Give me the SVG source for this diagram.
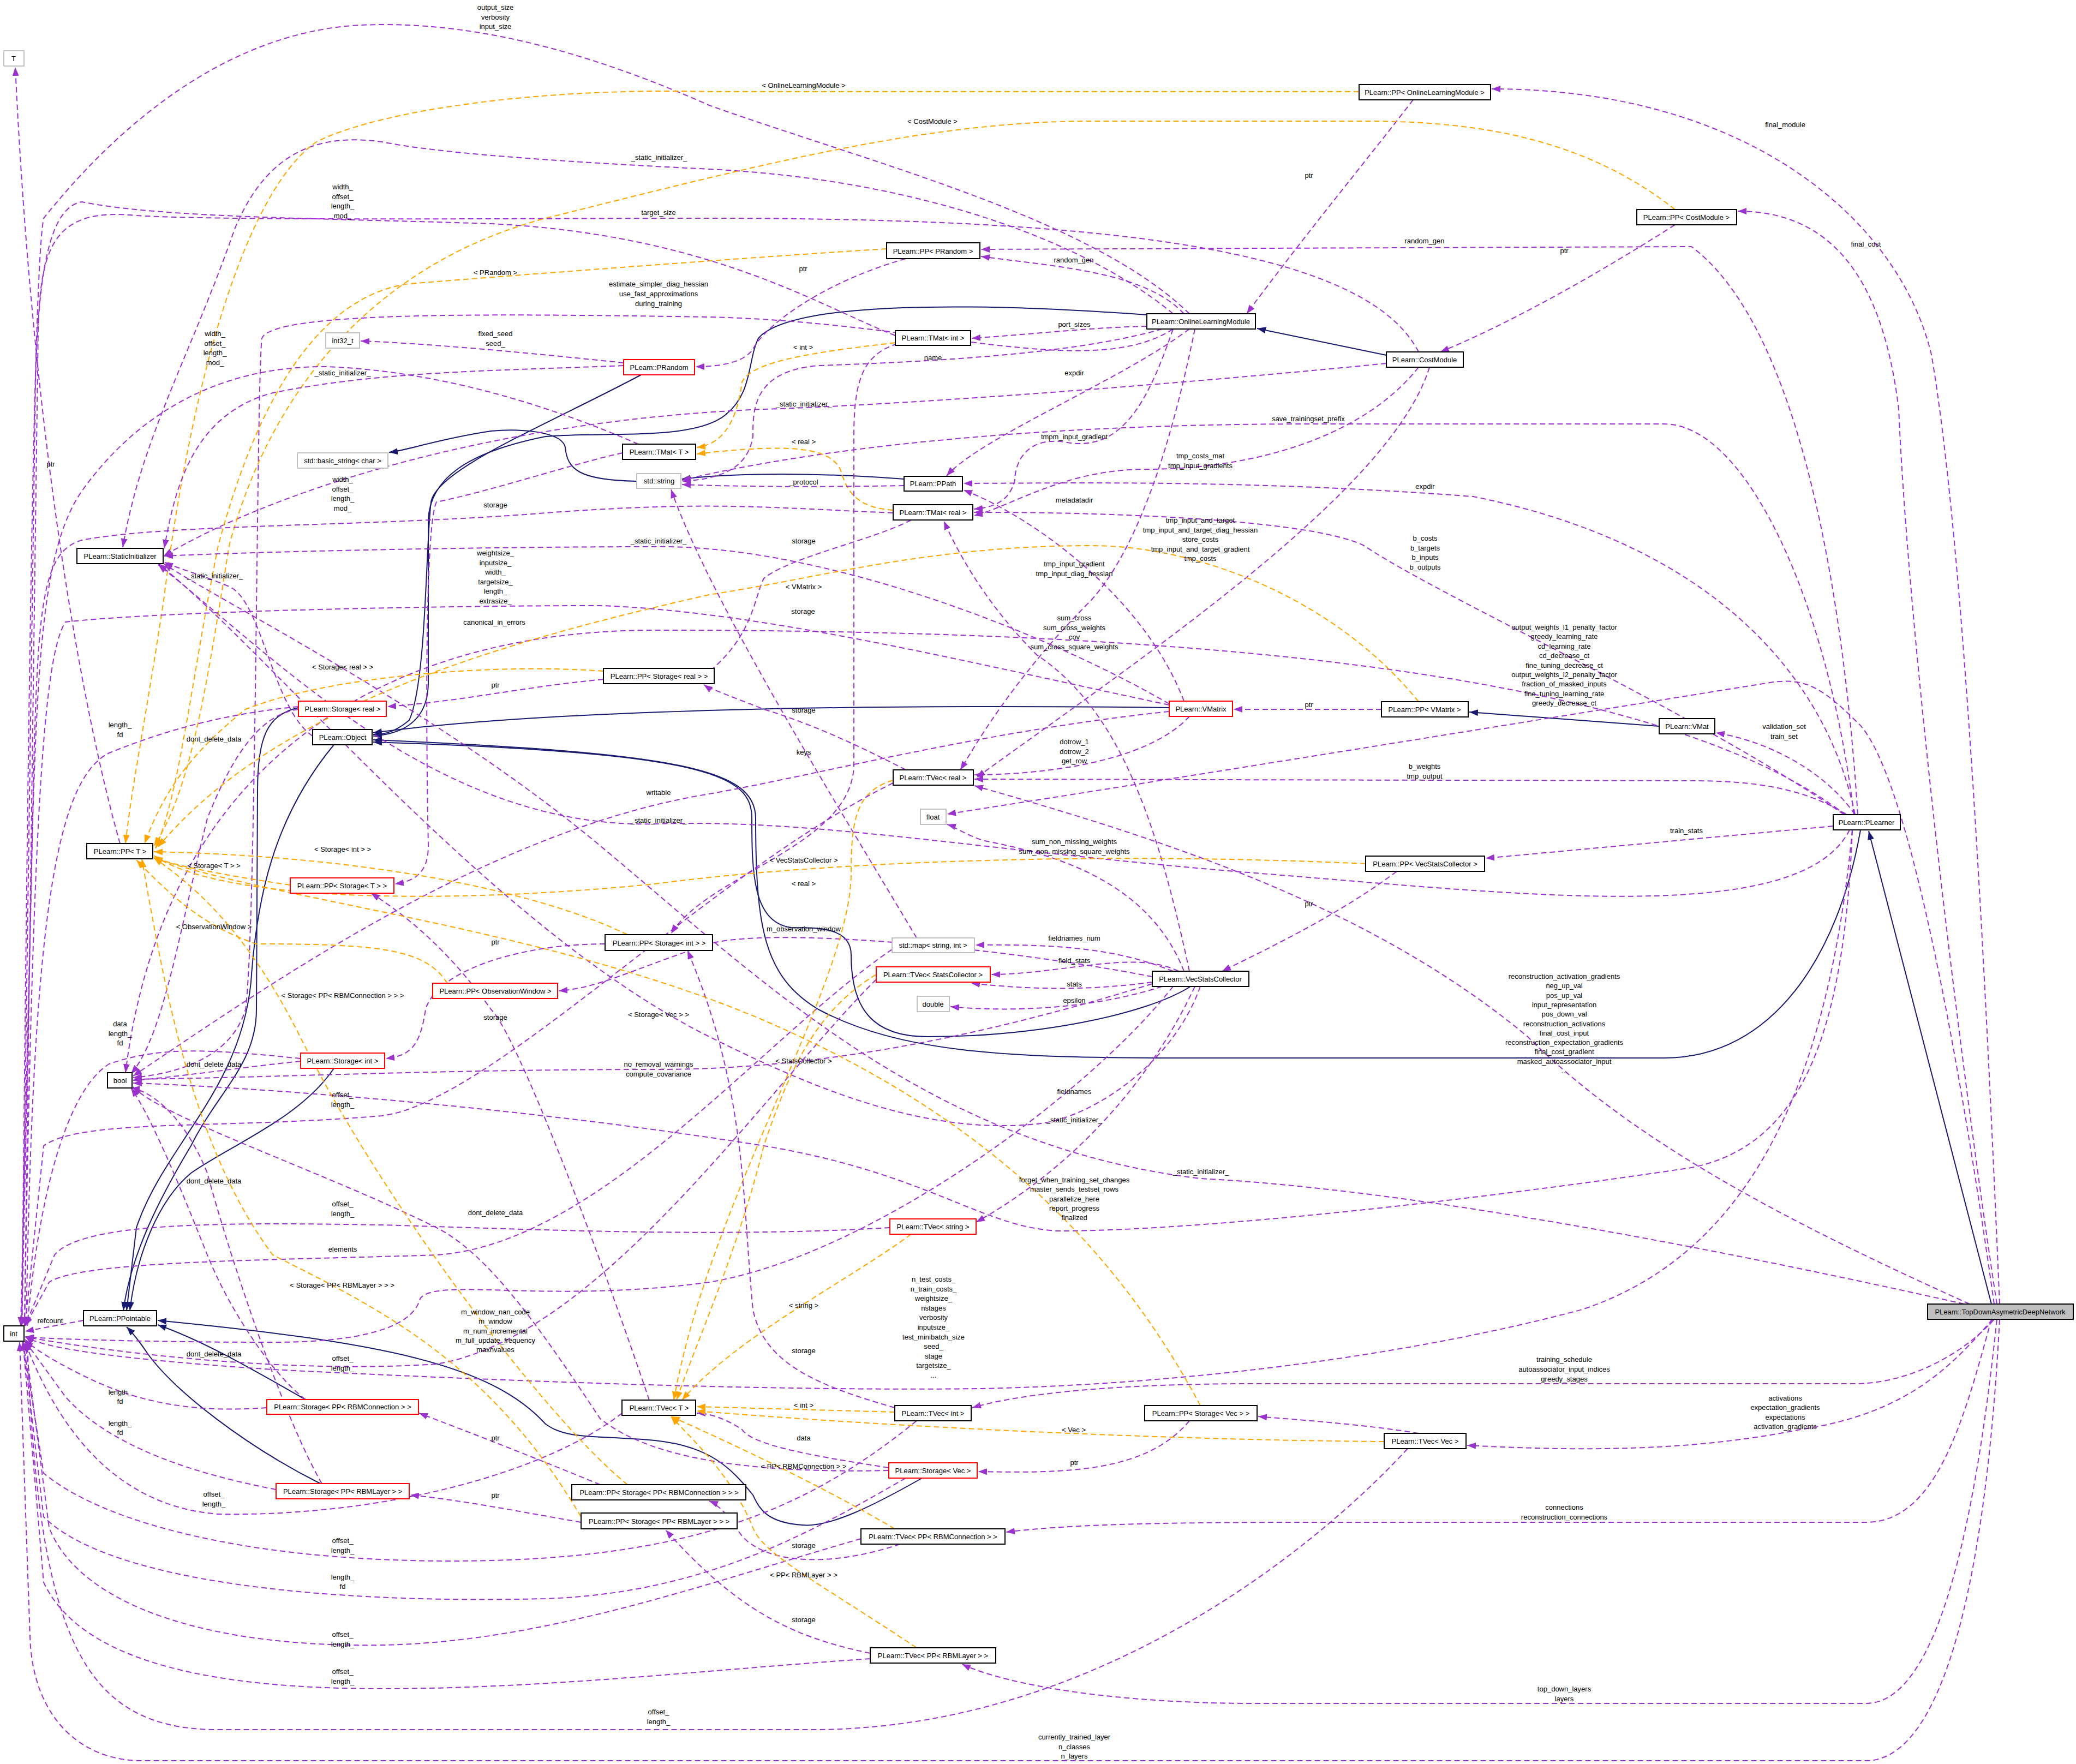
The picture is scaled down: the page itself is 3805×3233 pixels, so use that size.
<svg xmlns="http://www.w3.org/2000/svg" width="3805" height="3233" viewBox="0 0 3805 3233">
<style>
text{font-family:"Liberation Sans",Arial,sans-serif;font-size:13px;fill:#000}
.l{text-anchor:middle}
.nb{fill:#fff;stroke:#000;stroke-width:2}
.nr{fill:#fff;stroke:#ff0000;stroke-width:2}
.ng{fill:#fff;stroke:#bfbfbf;stroke-width:2}
.nf{fill:#bfbfbf;stroke:#000;stroke-width:2}
.p{fill:none;stroke:#9a32cd;stroke-width:2;stroke-dasharray:10,6;marker-end:url(#ap)}
.o{fill:none;stroke:#ffa500;stroke-width:2;stroke-dasharray:10,6;marker-end:url(#ao)}
.n{fill:none;stroke:#191970;stroke-width:2;marker-end:url(#an)}
</style>
<defs>
<marker id="ap" markerUnits="userSpaceOnUse" markerWidth="18" markerHeight="14" refX="16" refY="6" orient="auto"><path d="M0,0 L16,6 L0,12 z" fill="#9a32cd"/></marker>
<marker id="ao" markerUnits="userSpaceOnUse" markerWidth="18" markerHeight="14" refX="16" refY="6" orient="auto"><path d="M0,0 L16,6 L0,12 z" fill="#ffa500"/></marker>
<marker id="an" markerUnits="userSpaceOnUse" markerWidth="18" markerHeight="14" refX="16" refY="6" orient="auto"><path d="M0,0 L16,6 L0,12 z" fill="#191970"/></marker>
</defs>
<rect width="3805" height="3233" fill="#fff"/>
<g id="edges">
<path class="n" d="M3650,2390 L3425,1523"/>
<path class="n" d="M3410,1521 C3370,1750 3250,1939 3050,1939 L2150,1939 C1850,1939 1650,1930 1500,1850 C1400,1790 1385,1700 1385,1500 C1385,1410 1250,1380 684,1356"/>
<path class="n" d="M2182,1808 C2100,1860 1900,1900 1700,1900 C1600,1900 1560,1850 1560,1750 C1560,1700 1500,1700 1450,1700 C1380,1690 1378,1600 1378,1500 C1378,1420 1300,1380 684,1360"/>
<path class="n" d="M2143,1297 C1600,1290 1000,1300 684,1343"/>
<path class="n" d="M2102,577 C1800,555 1450,550 1390,620 C1370,660 1380,720 1330,760 C1270,810 1100,790 1000,800 C850,830 790,880 785,950 L785,1250 C785,1320 740,1345 684,1349"/>
<path class="n" d="M2541,651 L2304,602"/>
<path class="n" d="M1175,687 C1000,780 800,860 790,920 C780,1000 782,1250 750,1320 C720,1345 700,1346 684,1346"/>
<path class="n" d="M1167,882 C1060,880 1040,860 1036,820 C1030,790 950,785 900,790 C800,805 750,825 713,829"/>
<path class="n" d="M1657,878 C1500,866 1350,866 1250,878"/>
<path class="n" d="M3041,1331 L2693,1305"/>
<path class="n" d="M547,1297 C490,1310 472,1350 472,1450 L470,1850 C470,1950 400,2000 350,2100 C290,2200 240,2300 226,2402"/>
<path class="n" d="M612,1365 C500,1500 470,1650 460,1800 C440,2000 300,2100 250,2250 L232,2402"/>
<path class="n" d="M612,1958 C550,2050 420,2100 350,2150 C290,2200 250,2300 238,2402"/>
<path class="n" d="M560,2565 C480,2520 380,2460 289,2428"/>
<path class="n" d="M587,2719 C450,2650 320,2550 270,2480 C250,2450 240,2440 232,2432"/>
<path class="n" d="M1690,2709 C1600,2760 1520,2800 1470,2795 C1400,2790 1390,2760 1380,2740 C1340,2690 1300,2650 1200,2640 C1100,2630 1040,2640 1000,2610 C900,2500 700,2460 289,2420"/>

<path class="p" d="M3665,2390 C3640,1800 3600,1000 3540,650 C3480,400 3200,163 2734,163"/>
<path class="p" d="M3660,2390 C3600,2000 3500,1200 3480,750 C3450,500 3350,387 3185,387"/>
<path class="p" d="M3655,2418 C3600,2480 3500,2536 3400,2536 L2300,2536 C2000,2536 1850,2560 1782,2580"/>
<path class="p" d="M3652,2418 C3580,2500 3500,2590 3300,2620 C3100,2660 2900,2660 2689,2649"/>
<path class="p" d="M3650,2418 C3600,2600 3550,2790 3420,2790 L2400,2790 C2100,2790 1950,2795 1844,2808"/>
<path class="p" d="M3660,2418 C3620,2800 3550,3122 3420,3122 L2300,3122 C2050,3122 1850,3090 1763,3050"/>
<path class="p" d="M3665,2418 C3640,2900 3560,3227 3420,3227 L260,3227 C150,3227 60,3150 55,3000 L36,2460"/>
<path class="p" d="M3610,2390 C3300,2250 3000,2100 2800,1900 C2500,1650 2100,1530 1786,1440"/>
<path class="p" d="M3655,2390 C3600,2000 3500,1400 3400,1320 C3330,1250 3300,1245 3250,1250 C3000,1290 2200,1420 1736,1492"/>
<path class="p" d="M3600,2390 C3200,2300 2600,2180 2200,2160 C1700,2100 1400,1800 1100,1550 C800,1300 400,1100 300,1033"/>
<path class="p" d="M3405,1493 C3380,1100 3300,600 3100,452 L1798,457"/>
<path class="p" d="M3400,1493 C3350,1250 3150,1000 2700,910 C2300,880 2000,885 1766,886"/>
<path class="p" d="M3398,1493 C3350,1100 3200,777 3050,777 L2400,777 C1900,777 1500,820 1250,880"/>
<path class="p" d="M3385,1493 C3300,1440 3200,1431 3100,1431 L1786,1428"/>
<path class="p" d="M3380,1493 C3100,1300 2650,1100 2500,1000 C2400,950 2000,938 1785,939"/>
<path class="p" d="M3400,1493 C3350,1420 3250,1360 3145,1343"/>
<path class="p" d="M3360,1514 L2723,1573"/>
<path class="p" d="M3395,1521 C3380,1900 3300,2100 3100,2140 C2700,2200 2200,2256 1940,2256 C1800,2250 1700,2150 1400,2100 C900,2020 400,1990 244,1985"/>
<path class="p" d="M3395,1521 C3350,2000 3200,2300 2900,2400 C2600,2480 2200,2536 1800,2545 C1400,2550 900,2530 500,2510 C200,2490 80,2470 46,2450"/>
<path class="p" d="M3390,1521 C3300,1700 2800,1640 2300,1600 C1800,1560 1500,1500 1200,1510 C800,1520 500,1200 290,1035"/>
<path class="p" d="M3382,1493 C3000,1200 2000,1155 1200,1155 C700,1155 300,1400 230,1966"/>
<path class="p" d="M2180,575 C2000,400 1600,300 1300,193 C1000,60 800,40 660,46 C400,60 200,250 80,400 C60,500 50,1500 40,2430"/>
<path class="p" d="M2150,575 C2000,450 1700,330 1300,310 C1000,295 800,280 700,260 C560,240 480,300 430,420 C350,650 260,800 225,1003"/>
<path class="p" d="M2170,575 C2100,500 1950,490 1798,470"/>
<path class="p" d="M2102,598 C2000,600 1900,612 1781,620"/>
<path class="p" d="M2130,603 C2000,640 1800,660 1500,670 C1380,680 1380,750 1380,800 C1370,860 1320,878 1250,882"/>
<path class="p" d="M2180,603 C2050,700 1800,800 1735,872"/>
<path class="p" d="M2150,603 C2000,700 1700,590 1300,581 C900,575 500,570 480,620 C470,700 470,1700 450,1850 C420,1950 300,1970 244,1975"/>
<path class="p" d="M2150,603 C2100,750 2050,830 1950,810 C1880,800 1860,850 1860,880 C1850,920 1820,930 1785,933"/>
<path class="p" d="M2190,603 C2150,800 2090,1000 2000,1100 C1850,1250 1780,1380 1760,1411"/>
<path class="p" d="M2600,645 C2500,450 2000,400 1300,400 C1000,400 400,405 250,395 C100,380 75,450 70,600 L45,2430"/>
<path class="p" d="M2541,666 C2200,700 1700,740 1400,750 C900,770 500,900 300,1019"/>
<path class="p" d="M2600,673 C2500,800 2300,860 2100,860 C1950,860 1850,930 1785,945"/>
<path class="p" d="M2620,673 C2550,900 2100,1200 1790,1425"/>
<path class="p" d="M2590,183 C2500,300 2400,420 2285,575"/>
<path class="o" d="M2491,168 L1300,168 C1000,160 700,200 580,260 C450,350 350,700 300,1100 C270,1300 240,1450 230,1546"/>
<path class="p" d="M3070,412 C2900,520 2750,600 2640,645"/>
<path class="o" d="M3070,384 C2900,250 2700,222 2500,222 L2000,222 C1700,222 1400,300 1000,400 C700,480 500,700 420,1000 C380,1250 350,1450 282,1550"/>
<path class="p" d="M1660,474 C1500,520 1400,600 1380,640 C1360,670 1300,672 1275,672"/>
<path class="o" d="M1625,456 C1400,470 1000,500 750,520 C600,540 480,700 400,1000 C350,1250 330,1450 285,1555"/>
<path class="p" d="M1143,665 C1000,650 800,630 661,625"/>
<path class="p" d="M1143,670 C900,680 700,680 500,720 C350,760 320,900 301,1005"/>
<path class="p" d="M1641,615 C1500,560 1300,430 900,410 C600,400 300,400 150,370 C90,380 70,500 65,700 L40,2430"/>
<path class="o" d="M1641,628 C1500,645 1380,660 1360,700 C1350,780 1320,815 1277,820"/>
<path class="p" d="M1645,630 C1580,650 1565,700 1565,800 L1565,1400 C1565,1550 1300,1600 1230,1711"/>
<path class="p" d="M1637,940 C1400,930 1300,918 1000,940 C700,965 300,960 150,990 C80,1010 70,1100 62,1400 L40,2430"/>
<path class="o" d="M1637,935 C1560,930 1550,890 1540,860 C1520,820 1450,812 1277,832"/>
<path class="p" d="M1670,953 C1600,990 1450,1020 1400,1060 C1380,1100 1380,1180 1270,1253"/>
<path class="p" d="M1170,814 C1000,740 800,680 600,672 C400,670 250,760 150,900 C80,1000 70,1200 60,1500 L38,2430"/>
<path class="p" d="M1141,830 C1050,850 900,900 800,920 C780,960 780,1300 785,1550 C785,1600 760,1615 724,1620"/>
<path class="p" d="M1657,890 C1500,893 1350,892 1250,888"/>
<path class="p" d="M2143,1292 C1800,1220 1400,1120 1100,1110 C800,1110 300,1120 120,1140 C80,1200 60,1500 45,2430"/>
<path class="p" d="M2143,1290 C1900,1150 1500,1000 1207,1002 C900,1002 500,1010 301,1019"/>
<path class="p" d="M2170,1285 C2100,1100 1900,950 1766,898"/>
<path class="p" d="M2180,1313 C2100,1400 1900,1420 1786,1420"/>
<path class="p" d="M2143,1304 C1800,1340 1500,1420 1300,1455 C900,1520 500,1800 244,1972"/>
<path class="p" d="M2532,1300 L2261,1300"/>
<path class="o" d="M2600,1286 C2450,1100 2200,1000 2000,1000 C1700,1000 1500,1060 1300,1090 C900,1180 500,1300 290,1552"/>
<path class="p" d="M1106,1245 C950,1260 850,1285 710,1295"/>
<path class="o" d="M1106,1230 C900,1215 600,1240 450,1300 C350,1380 300,1450 265,1546"/>
<path class="p" d="M547,1295 C400,1310 300,1340 200,1380 C100,1430 60,1700 48,2430"/>
<path class="p" d="M547,1300 C470,1310 420,1400 380,1500 C330,1700 300,1900 240,1968"/>
<path class="p" d="M573,1349 C500,1300 480,1100 420,1075 C360,1050 320,1040 301,1030"/>
<path class="o" d="M532,1622 C450,1610 330,1590 282,1572"/>
<path class="p" d="M1109,1730 C950,1730 800,1780 780,1850 C770,1920 750,1935 707,1940"/>
<path class="o" d="M1150,1713 C1000,1640 700,1570 282,1561"/>
<path class="o" d="M820,1802 C780,1740 700,1730 470,1730 C380,1700 320,1650 250,1576"/>
<path class="p" d="M2112,1790 C1800,1730 1400,1700 1300,1730 C1150,1780 1100,1810 1024,1816"/>
<path class="p" d="M2150,1780 C2050,1740 1950,1730 1788,1732"/>
<path class="p" d="M2160,1780 C2080,1740 1950,1785 1817,1786"/>
<path class="p" d="M2112,1800 C2000,1815 1900,1815 1780,1802"/>
<path class="p" d="M2130,1808 C2000,1850 1850,1855 1742,1845"/>
<path class="p" d="M2170,1780 C2100,1600 1900,1560 1800,1540 C1760,1525 1750,1515 1736,1511"/>
<path class="p" d="M2180,1780 C2120,1500 2050,1300 1900,1200 C1800,1100 1750,1000 1730,955"/>
<path class="p" d="M2112,1803 C1800,1900 1500,1960 1207,1960 C800,1960 500,1975 244,1978"/>
<path class="p" d="M2150,1808 C2000,2000 1600,2300 1300,2350 C1000,2390 800,2340 770,2380 C760,2420 700,2460 500,2460 C300,2460 100,2455 46,2450"/>
<path class="p" d="M2190,1808 C2100,2000 1950,2150 1789,2240"/>
<path class="p" d="M2200,1808 C2150,1950 2000,2050 1900,2060 C1700,2080 1500,2000 1300,1900 C900,1700 500,1200 290,1033"/>
<path class="p" d="M2560,1597 C2450,1680 2300,1750 2240,1780"/>
<path class="o" d="M2503,1583 C2000,1560 1500,1580 1200,1620 C800,1660 400,1650 282,1568"/>
<path class="p" d="M1680,1719 C1550,1500 1300,1100 1230,897"/>
<path class="p" d="M1635,1740 C1400,1900 1100,2280 800,2300 C500,2310 150,2310 90,2350 L46,2430"/>
<path class="o" d="M1606,1786 C1500,1850 1450,1950 1400,2100 C1350,2300 1280,2450 1240,2566"/>
<path class="p" d="M1606,1795 C1400,2000 1100,2450 800,2500 C500,2520 150,2470 46,2450"/>
<path class="p" d="M551,1940 C400,1925 300,1915 200,1950 C120,2000 70,2200 50,2430"/>
<path class="p" d="M551,1945 C450,1955 320,1975 244,1980"/>
<path class="p" d="M1660,1411 C1600,1380 1500,1330 1400,1300 C1350,1280 1300,1262 1290,1255"/>
<path class="o" d="M1637,1430 C1570,1450 1560,1500 1560,1600 C1560,1800 1300,2200 1235,2566"/>
<path class="p" d="M1637,1435 C1300,1600 900,2020 700,2045 C400,2070 150,2050 80,2100 L46,2430"/>
<path class="o" d="M1670,2262 C1550,2350 1350,2450 1250,2566"/>
<path class="p" d="M1631,2250 C1300,2270 900,2250 700,2245 C400,2240 150,2240 100,2300 L46,2430"/>
<path class="o" d="M1640,2588 L1277,2578"/>
<path class="p" d="M1680,2604 C1500,2750 1300,2850 900,2860 C500,2870 200,2800 80,2700 L42,2458"/>
<path class="p" d="M1640,2580 C1500,2540 1400,2500 1380,2400 C1360,2200 1370,2000 1260,1742"/>
<path class="p" d="M1140,2590 C1000,2700 700,2780 400,2775 C200,2760 100,2600 46,2460"/>
<path class="p" d="M1190,2566 C1100,2300 950,1900 900,1850 C850,1780 780,1700 680,1637"/>
<path class="p" d="M1629,2690 C1500,2670 1380,2650 1360,2620 C1330,2600 1300,2590 1277,2590"/>
<path class="p" d="M1660,2709 C1500,2800 1300,2920 1000,2930 C600,2940 200,2900 80,2780 L42,2458"/>
<path class="p" d="M1629,2695 C1400,2700 1200,2680 1100,2600 C1000,2450 900,2300 800,2250 C600,2150 300,2050 244,1992"/>
<path class="p" d="M2180,2604 C2100,2700 1950,2700 1793,2697"/>
<path class="o" d="M2200,2576 C2000,2200 1700,2000 1400,1870 C1000,1700 500,1650 282,1572"/>
<path class="o" d="M2537,2642 C2200,2640 1700,2620 1277,2586"/>
<path class="p" d="M2600,2627 C2500,2610 2350,2600 2306,2596"/>
<path class="p" d="M2580,2655 C2400,2850 2000,3165 1500,3170 L400,3170 C150,3170 70,3000 50,2458"/>
<path class="p" d="M1100,2721 C1000,2680 900,2640 768,2590"/>
<path class="o" d="M1150,2721 C1000,2600 700,2200 550,1900 C450,1700 350,1620 282,1572"/>
<path class="p" d="M1065,2790 C950,2770 850,2750 752,2740"/>
<path class="o" d="M1065,2780 C900,2500 700,2400 500,2300 C350,2100 300,1800 260,1574"/>
<path class="p" d="M489,2580 C350,2590 250,2570 150,2520 C90,2490 60,2470 46,2455"/>
<path class="p" d="M560,2565 C500,2520 420,2400 380,2300 C340,2200 280,2050 240,1994"/>
<path class="p" d="M506,2730 C350,2700 200,2650 120,2560 L46,2458"/>
<path class="p" d="M590,2719 C520,2600 420,2300 380,2150 C340,2050 280,2000 240,1994"/>
<path class="p" d="M1650,2830 C1500,2880 1380,2860 1350,2800 C1330,2770 1310,2755 1300,2751"/>
<path class="o" d="M1640,2802 C1500,2720 1350,2650 1230,2596"/>
<path class="p" d="M1578,2820 C1300,2900 1000,3010 700,3015 C400,3020 150,2950 90,2800 L46,2458"/>
<path class="p" d="M1595,3030 C1450,3000 1350,2950 1220,2804"/>
<path class="o" d="M1680,3020 C1500,2900 1400,2850 1380,2800 C1340,2700 1260,2630 1230,2596"/>
<path class="p" d="M1595,3040 C1300,3060 1000,3095 700,3095 C400,3095 150,3050 80,2900 L42,2458"/>
<path class="p" d="M220,1546 C150,1300 60,800 28,123"/>
<path class="p" d="M153,2420 L46,2440"/>
</g>
<g id="labels">
<text class="l" x="908" y="18">output_size<tspan x="908" dy="17.5">verbosity</tspan><tspan x="908" dy="17.5">input_size</tspan></text>
<text class="l" x="1473" y="161">&lt; OnlineLearningModule &gt;</text>
<text class="l" x="1709" y="227">&lt; CostModule &gt;</text>
<text class="l" x="3272" y="233">final_module</text>
<text class="l" x="1208" y="293">_static_initializer_</text>
<text class="l" x="2399" y="326">ptr</text>
<text class="l" x="628" y="347">width_<tspan x="628" dy="17.5">offset_</tspan><tspan x="628" dy="17.5">length_</tspan><tspan x="628" dy="17.5">mod_</tspan></text>
<text class="l" x="1207" y="394">target_size</text>
<text class="l" x="2611" y="446">random_gen</text>
<text class="l" x="3420" y="452">final_cost</text>
<text class="l" x="2867" y="464">ptr</text>
<text class="l" x="1968" y="481">random_gen</text>
<text class="l" x="1472" y="497">ptr</text>
<text class="l" x="908" y="504">&lt; PRandom &gt;</text>
<text class="l" x="1207" y="525">estimate_simpler_diag_hessian<tspan x="1207" dy="18">use_fast_approximations</tspan><tspan x="1207" dy="18">during_training</tspan></text>
<text class="l" x="1969" y="599">port_sizes</text>
<text class="l" x="908" y="616">fixed_seed<tspan x="908" dy="18">seed_</tspan></text>
<text class="l" x="394" y="616">width_<tspan x="394" dy="17.5">offset_</tspan><tspan x="394" dy="17.5">length_</tspan><tspan x="394" dy="17.5">mod_</tspan></text>
<text class="l" x="1472" y="641">&lt; int &gt;</text>
<text class="l" x="1710" y="660">name</text>
<text class="l" x="1969" y="688">expdir</text>
<text class="l" x="628" y="688">_static_initializer_</text>
<text class="l" x="1473" y="745">_static_initializer_</text>
<text class="l" x="2398" y="772">save_trainingset_prefix</text>
<text class="l" x="1969" y="805">tmpm_input_gradient</text>
<text class="l" x="1473" y="814">&lt; real &gt;</text>
<text class="l" x="2200" y="840">tmp_costs_mat<tspan x="2200" dy="17.5">tmp_input_gradients</tspan></text>
<text class="l" x="93" y="855">ptr</text>
<text class="l" x="628" y="883">width_<tspan x="628" dy="17.5">offset_</tspan><tspan x="628" dy="17.5">length_</tspan><tspan x="628" dy="17.5">mod_</tspan></text>
<text class="l" x="1473" y="888">_protocol</text>
<text class="l" x="2612" y="896">expdir</text>
<text class="l" x="1969" y="921">metadatadir</text>
<text class="l" x="908" y="930">storage</text>
<text class="l" x="2200" y="958">tmp_input_and_target<tspan x="2200" dy="17.5">tmp_input_and_target_diag_hessian</tspan><tspan x="2200" dy="17.5">store_costs</tspan><tspan x="2200" dy="17.5">tmp_input_and_target_gradient</tspan><tspan x="2200" dy="17.5">tmp_costs</tspan></text>
<text class="l" x="2612" y="991">b_costs<tspan x="2612" dy="17.5">b_targets</tspan><tspan x="2612" dy="17.5">b_inputs</tspan><tspan x="2612" dy="17.5">b_outputs</tspan></text>
<text class="l" x="1473" y="996">storage</text>
<text class="l" x="1207" y="996">_static_initializer_</text>
<text class="l" x="908" y="1018">weightsize_<tspan x="908" dy="17.5">inputsize_</tspan><tspan x="908" dy="17.5">width_</tspan><tspan x="908" dy="17.5">targetsize_</tspan><tspan x="908" dy="17.5">length_</tspan><tspan x="908" dy="17.5">extrasize_</tspan></text>
<text class="l" x="1969" y="1038">tmp_input_gradient<tspan x="1969" dy="17.5">tmp_input_diag_hessian</tspan></text>
<text class="l" x="394" y="1060">_static_initializer_</text>
<text class="l" x="1473" y="1080">&lt; VMatrix &gt;</text>
<text class="l" x="1472" y="1125">storage</text>
<text class="l" x="1969" y="1137">sum_cross<tspan x="1969" dy="17.5">sum_cross_weights</tspan><tspan x="1969" dy="17.5">cov</tspan><tspan x="1969" dy="17.5">sum_cross_square_weights</tspan></text>
<text class="l" x="906" y="1145">canonical_in_errors</text>
<text class="l" x="2867" y="1154">output_weights_l1_penalty_factor<tspan x="2867" dy="17.4">greedy_learning_rate</tspan><tspan x="2867" dy="17.4">cd_learning_rate</tspan><tspan x="2867" dy="17.4">cd_decrease_ct</tspan><tspan x="2867" dy="17.4">fine_tuning_decrease_ct</tspan><tspan x="2867" dy="17.4">output_weights_l2_penalty_factor</tspan><tspan x="2867" dy="17.4">fraction_of_masked_inputs</tspan><tspan x="2867" dy="17.4">fine_tuning_learning_rate</tspan><tspan x="2867" dy="17.4">greedy_decrease_ct</tspan></text>
<text class="l" x="628" y="1227">&lt; Storage&lt; real &gt; &gt;</text>
<text class="l" x="908" y="1260">ptr</text>
<text class="l" x="2399" y="1296">ptr</text>
<text class="l" x="1473" y="1306">storage</text>
<text class="l" x="220" y="1333">length_<tspan x="220" dy="17.5">fd</tspan></text>
<text class="l" x="3270" y="1336">validation_set<tspan x="3270" dy="17.5">train_set</tspan></text>
<text class="l" x="392" y="1359">dont_delete_data</text>
<text class="l" x="1969" y="1364">dotrow_1<tspan x="1969" dy="17.5">dotrow_2</tspan><tspan x="1969" dy="17.5">get_row</tspan></text>
<text class="l" x="1473" y="1383">keys</text>
<text class="l" x="2611" y="1409">b_weights<tspan x="2611" dy="18">tmp_output</tspan></text>
<text class="l" x="1207" y="1457">writable</text>
<text class="l" x="1207" y="1508">_static_initializer_</text>
<text class="l" x="3091" y="1527">train_stats</text>
<text class="l" x="1969" y="1547">sum_non_missing_weights<tspan x="1969" dy="17.5">sum_non_missing_square_weights</tspan></text>
<text class="l" x="628" y="1561">&lt; Storage&lt; int &gt; &gt;</text>
<text class="l" x="1473" y="1581">&lt; VecStatsCollector &gt;</text>
<text class="l" x="392" y="1591">&lt; Storage&lt; T &gt; &gt;</text>
<text class="l" x="1473" y="1624">&lt; real &gt;</text>
<text class="l" x="2399" y="1661">ptr</text>
<text class="l" x="392" y="1703">&lt; ObservationWindow &gt;</text>
<text class="l" x="1473" y="1707">m_observation_window</text>
<text class="l" x="1969" y="1724">fieldnames_num</text>
<text class="l" x="908" y="1731">ptr</text>
<text class="l" x="1969" y="1765">field_stats</text>
<text class="l" x="2867" y="1794">reconstruction_activation_gradients<tspan x="2867" dy="17.3">neg_up_val</tspan><tspan x="2867" dy="17.3">pos_up_val</tspan><tspan x="2867" dy="17.3">input_representation</tspan><tspan x="2867" dy="17.3">pos_down_val</tspan><tspan x="2867" dy="17.3">reconstruction_activations</tspan><tspan x="2867" dy="17.3">final_cost_input</tspan><tspan x="2867" dy="17.3">reconstruction_expectation_gradients</tspan><tspan x="2867" dy="17.3">final_cost_gradient</tspan><tspan x="2867" dy="17.3">masked_autoassociator_input</tspan><tspan x="2867" dy="17.3">...</tspan></text>
<text class="l" x="1969" y="1808">stats</text>
<text class="l" x="628" y="1829">&lt; Storage&lt; PP&lt; RBMConnection &gt; &gt; &gt;</text>
<text class="l" x="1969" y="1838">epsilon</text>
<text class="l" x="1207" y="1864">&lt; Storage&lt; Vec &gt; &gt;</text>
<text class="l" x="908" y="1869">storage</text>
<text class="l" x="220" y="1881">data<tspan x="220" dy="17.5">length_</tspan><tspan x="220" dy="17.5">fd</tspan></text>
<text class="l" x="1473" y="1949">&lt; StatsCollector &gt;</text>
<text class="l" x="392" y="1955">dont_delete_data</text>
<text class="l" x="1207" y="1955">no_removal_warnings<tspan x="1207" dy="17.5">compute_covariance</tspan></text>
<text class="l" x="1969" y="2005">fieldnames</text>
<text class="l" x="628" y="2011">offset_<tspan x="628" dy="17.5">length_</tspan></text>
<text class="l" x="1969" y="2057">_static_initializer_</text>
<text class="l" x="2201" y="2152">_static_initializer_</text>
<text class="l" x="1969" y="2167">forget_when_training_set_changes<tspan x="1969" dy="17.3">master_sends_testset_rows</tspan><tspan x="1969" dy="17.3">parallelize_here</tspan><tspan x="1969" dy="17.3">report_progress</tspan><tspan x="1969" dy="17.3">finalized</tspan></text>
<text class="l" x="392" y="2169">dont_delete_data</text>
<text class="l" x="628" y="2211">offset_<tspan x="628" dy="17.5">length_</tspan></text>
<text class="l" x="908" y="2227">dont_delete_data</text>
<text class="l" x="628" y="2294">elements</text>
<text class="l" x="1711" y="2349">n_test_costs_<tspan x="1711" dy="17.6">n_train_costs_</tspan><tspan x="1711" dy="17.6">weightsize_</tspan><tspan x="1711" dy="17.6">nstages</tspan><tspan x="1711" dy="17.6">verbosity</tspan><tspan x="1711" dy="17.6">inputsize_</tspan><tspan x="1711" dy="17.6">test_minibatch_size</tspan><tspan x="1711" dy="17.6">seed_</tspan><tspan x="1711" dy="17.6">stage</tspan><tspan x="1711" dy="17.6">targetsize_</tspan><tspan x="1711" dy="17.6">...</tspan></text>
<text class="l" x="627" y="2360">&lt; Storage&lt; PP&lt; RBMLayer &gt; &gt; &gt;</text>
<text class="l" x="1473" y="2397">&lt; string &gt;</text>
<text class="l" x="908" y="2409">m_window_nan_code<tspan x="908" dy="17.3">m_window</tspan><tspan x="908" dy="17.3">m_num_incremental</tspan><tspan x="908" dy="17.3">m_full_update_frequency</tspan><tspan x="908" dy="17.3">maxnvalues</tspan></text>
<text class="l" x="92" y="2425">refcount</text>
<text class="l" x="1473" y="2480">storage</text>
<text class="l" x="392" y="2486">dont_delete_data</text>
<text class="l" x="628" y="2494">offset_<tspan x="628" dy="17.5">length_</tspan></text>
<text class="l" x="2867" y="2496">training_schedule<tspan x="2867" dy="17.8">autoassociator_input_indices</tspan><tspan x="2867" dy="17.8">greedy_stages</tspan></text>
<text class="l" x="220" y="2556">length_<tspan x="220" dy="17">fd</tspan></text>
<text class="l" x="3272" y="2567">activations<tspan x="3272" dy="17.4">expectation_gradients</tspan><tspan x="3272" dy="17.4">expectations</tspan><tspan x="3272" dy="17.4">activation_gradients</tspan></text>
<text class="l" x="1473" y="2580">&lt; int &gt;</text>
<text class="l" x="220" y="2613">length_<tspan x="220" dy="17">fd</tspan></text>
<text class="l" x="1968" y="2625">&lt; Vec &gt;</text>
<text class="l" x="908" y="2640">ptr</text>
<text class="l" x="1473" y="2640">data</text>
<text class="l" x="1969" y="2685">ptr</text>
<text class="l" x="1473" y="2692">&lt; PP&lt; RBMConnection &gt; &gt;</text>
<text class="l" x="392" y="2743">offset_<tspan x="392" dy="17.5">length_</tspan></text>
<text class="l" x="908" y="2745">ptr</text>
<text class="l" x="2867" y="2767">connections<tspan x="2867" dy="17.5">reconstruction_connections</tspan></text>
<text class="l" x="628" y="2828">offset_<tspan x="628" dy="17.5">length_</tspan></text>
<text class="l" x="1473" y="2837">storage</text>
<text class="l" x="1473" y="2891">&lt; PP&lt; RBMLayer &gt; &gt;</text>
<text class="l" x="628" y="2895">length_<tspan x="628" dy="17">fd</tspan></text>
<text class="l" x="1473" y="2973">storage</text>
<text class="l" x="628" y="3000">offset_<tspan x="628" dy="17.5">length_</tspan></text>
<text class="l" x="628" y="3068">offset_<tspan x="628" dy="17.5">length_</tspan></text>
<text class="l" x="2867" y="3100">top_down_layers<tspan x="2867" dy="17.5">layers</tspan></text>
<text class="l" x="1207" y="3142">offset_<tspan x="1207" dy="17.5">length_</tspan></text>
<text class="l" x="1969" y="3188">currently_trained_layer<tspan x="1969" dy="17.5">n_classes</tspan><tspan x="1969" dy="17.5">n_layers</tspan></text>
</g>
<g id="n_T"><rect class="ng" x="7" y="93" width="37" height="28"/><text class="l" x="25" y="112">T</text></g>
<g id="n_PPOLM"><rect class="nb" x="2491" y="155" width="241" height="28"/><text class="l" x="2611" y="174">PLearn::PP&lt; OnlineLearningModule &gt;</text></g>
<g id="n_PPCost"><rect class="nb" x="3000" y="384" width="183" height="28"/><text class="l" x="3091" y="403">PLearn::PP&lt; CostModule &gt;</text></g>
<g id="n_PPPRandom"><rect class="nb" x="1625" y="445" width="171" height="29"/><text class="l" x="1710" y="465">PLearn::PP&lt; PRandom &gt;</text></g>
<g id="n_OLM"><rect class="nb" x="2102" y="575" width="199" height="28"/><text class="l" x="2201" y="594">PLearn::OnlineLearningModule</text></g>
<g id="n_TMatInt"><rect class="nb" x="1641" y="606" width="138" height="27"/><text class="l" x="1710" y="624">PLearn::TMat&lt; int &gt;</text></g>
<g id="n_int32"><rect class="ng" x="597" y="610" width="62" height="28"/><text class="l" x="628" y="629">int32_t</text></g>
<g id="n_PRandom"><rect class="nr" x="1143" y="659" width="130" height="28"/><text class="l" x="1208" y="678">PLearn::PRandom</text></g>
<g id="n_CostModule"><rect class="nb" x="2541" y="645" width="141" height="28"/><text class="l" x="2611" y="664">PLearn::CostModule</text></g>
<g id="n_TMatT"><rect class="nb" x="1141" y="814" width="134" height="28"/><text class="l" x="1208" y="833">PLearn::TMat&lt; T &gt;</text></g>
<g id="n_basicstring"><rect class="ng" x="545" y="830" width="166" height="28"/><text class="l" x="628" y="849">std::basic_string&lt; char &gt;</text></g>
<g id="n_string"><rect class="ng" x="1167" y="868" width="81" height="27"/><text class="l" x="1208" y="886">std::string</text></g>
<g id="n_PPath"><rect class="nb" x="1657" y="873" width="107" height="27"/><text class="l" x="1710" y="891">PLearn::PPath</text></g>
<g id="n_TMatReal"><rect class="nb" x="1637" y="925" width="146" height="28"/><text class="l" x="1710" y="944">PLearn::TMat&lt; real &gt;</text></g>
<g id="n_StaticInit"><rect class="nb" x="141" y="1005" width="158" height="28"/><text class="l" x="220" y="1024">PLearn::StaticInitializer</text></g>
<g id="n_PPStorageReal"><rect class="nb" x="1106" y="1225" width="203" height="28"/><text class="l" x="1208" y="1244">PLearn::PP&lt; Storage&lt; real &gt; &gt;</text></g>
<g id="n_StorageReal"><rect class="nr" x="547" y="1285" width="161" height="28"/><text class="l" x="628" y="1304">PLearn::Storage&lt; real &gt;</text></g>
<g id="n_VMatrix"><rect class="nr" x="2143" y="1285" width="116" height="28"/><text class="l" x="2201" y="1304">PLearn::VMatrix</text></g>
<g id="n_PPVMatrix"><rect class="nb" x="2532" y="1286" width="159" height="28"/><text class="l" x="2611" y="1305">PLearn::PP&lt; VMatrix &gt;</text></g>
<g id="n_Object"><rect class="nb" x="573" y="1337" width="109" height="28"/><text class="l" x="628" y="1356">PLearn::Object</text></g>
<g id="n_VMat"><rect class="nb" x="3041" y="1317" width="102" height="28"/><text class="l" x="3092" y="1336">PLearn::VMat</text></g>
<g id="n_TVecReal"><rect class="nb" x="1637" y="1411" width="147" height="28"/><text class="l" x="1710" y="1430">PLearn::TVec&lt; real &gt;</text></g>
<g id="n_float"><rect class="ng" x="1687" y="1483" width="47" height="28"/><text class="l" x="1710" y="1502">float</text></g>
<g id="n_PLearner"><rect class="nb" x="3360" y="1493" width="123" height="28"/><text class="l" x="3421" y="1512">PLearn::PLearner</text></g>
<g id="n_PPT"><rect class="nb" x="159" y="1546" width="121" height="28"/><text class="l" x="220" y="1565">PLearn::PP&lt; T &gt;</text></g>
<g id="n_PPVSC"><rect class="nb" x="2503" y="1569" width="218" height="28"/><text class="l" x="2612" y="1588">PLearn::PP&lt; VecStatsCollector &gt;</text></g>
<g id="n_PPStorageT"><rect class="nr" x="532" y="1609" width="190" height="28"/><text class="l" x="627" y="1628">PLearn::PP&lt; Storage&lt; T &gt; &gt;</text></g>
<g id="n_PPStorageInt"><rect class="nb" x="1109" y="1713" width="197" height="29"/><text class="l" x="1208" y="1733">PLearn::PP&lt; Storage&lt; int &gt; &gt;</text></g>
<g id="n_map"><rect class="ng" x="1635" y="1719" width="151" height="27"/><text class="l" x="1710" y="1737">std::map&lt; string, int &gt;</text></g>
<g id="n_TVecSC"><rect class="nr" x="1606" y="1772" width="209" height="28"/><text class="l" x="1710" y="1791">PLearn::TVec&lt; StatsCollector &gt;</text></g>
<g id="n_VSC"><rect class="nb" x="2112" y="1780" width="177" height="28"/><text class="l" x="2200" y="1799">PLearn::VecStatsCollector</text></g>
<g id="n_PPObsWin"><rect class="nr" x="793" y="1802" width="229" height="28"/><text class="l" x="908" y="1821">PLearn::PP&lt; ObservationWindow &gt;</text></g>
<g id="n_double"><rect class="ng" x="1681" y="1826" width="59" height="28"/><text class="l" x="1710" y="1845">double</text></g>
<g id="n_StorageInt"><rect class="nr" x="551" y="1930" width="154" height="28"/><text class="l" x="628" y="1949">PLearn::Storage&lt; int &gt;</text></g>
<g id="n_bool"><rect class="nb" x="197" y="1966" width="45" height="28"/><text class="l" x="220" y="1985">bool</text></g>
<g id="n_TVecString"><rect class="nr" x="1631" y="2234" width="158" height="28"/><text class="l" x="1710" y="2253">PLearn::TVec&lt; string &gt;</text></g>
<g id="n_PPointable"><rect class="nb" x="153" y="2402" width="134" height="28"/><text class="l" x="220" y="2421">PLearn::PPointable</text></g>
<g id="n_int"><rect class="nb" x="7" y="2430" width="37" height="28"/><text class="l" x="25" y="2449">int</text></g>
<g id="n_TopDown"><rect class="nf" x="3533" y="2390" width="267" height="28"/><text class="l" x="3666" y="2409">PLearn::TopDownAsymetricDeepNetwork</text></g>
<g id="n_StoragePPRBMC"><rect class="nr" x="489" y="2565" width="278" height="27"/><text class="l" x="628" y="2583">PLearn::Storage&lt; PP&lt; RBMConnection &gt; &gt;</text></g>
<g id="n_TVecT"><rect class="nb" x="1140" y="2566" width="135" height="28"/><text class="l" x="1208" y="2585">PLearn::TVec&lt; T &gt;</text></g>
<g id="n_TVecInt"><rect class="nb" x="1640" y="2576" width="140" height="28"/><text class="l" x="1710" y="2595">PLearn::TVec&lt; int &gt;</text></g>
<g id="n_PPStorageVec"><rect class="nb" x="2098" y="2576" width="206" height="28"/><text class="l" x="2201" y="2595">PLearn::PP&lt; Storage&lt; Vec &gt; &gt;</text></g>
<g id="n_TVecVec"><rect class="nb" x="2537" y="2627" width="150" height="28"/><text class="l" x="2612" y="2646">PLearn::TVec&lt; Vec &gt;</text></g>
<g id="n_StorageVec"><rect class="nr" x="1629" y="2681" width="162" height="28"/><text class="l" x="1710" y="2700">PLearn::Storage&lt; Vec &gt;</text></g>
<g id="n_StoragePPRBML"><rect class="nr" x="506" y="2719" width="244" height="28"/><text class="l" x="628" y="2738">PLearn::Storage&lt; PP&lt; RBMLayer &gt; &gt;</text></g>
<g id="n_PPStoragePPRBMC"><rect class="nb" x="1048" y="2721" width="319" height="28"/><text class="l" x="1208" y="2740">PLearn::PP&lt; Storage&lt; PP&lt; RBMConnection &gt; &gt; &gt;</text></g>
<g id="n_PPStoragePPRBML"><rect class="nb" x="1065" y="2773" width="286" height="29"/><text class="l" x="1208" y="2793">PLearn::PP&lt; Storage&lt; PP&lt; RBMLayer &gt; &gt; &gt;</text></g>
<g id="n_TVecPPRBMC"><rect class="nb" x="1578" y="2802" width="264" height="28"/><text class="l" x="1710" y="2821">PLearn::TVec&lt; PP&lt; RBMConnection &gt; &gt;</text></g>
<g id="n_TVecPPRBML"><rect class="nb" x="1595" y="3020" width="230" height="28"/><text class="l" x="1710" y="3039">PLearn::TVec&lt; PP&lt; RBMLayer &gt; &gt;</text></g>
</svg>
